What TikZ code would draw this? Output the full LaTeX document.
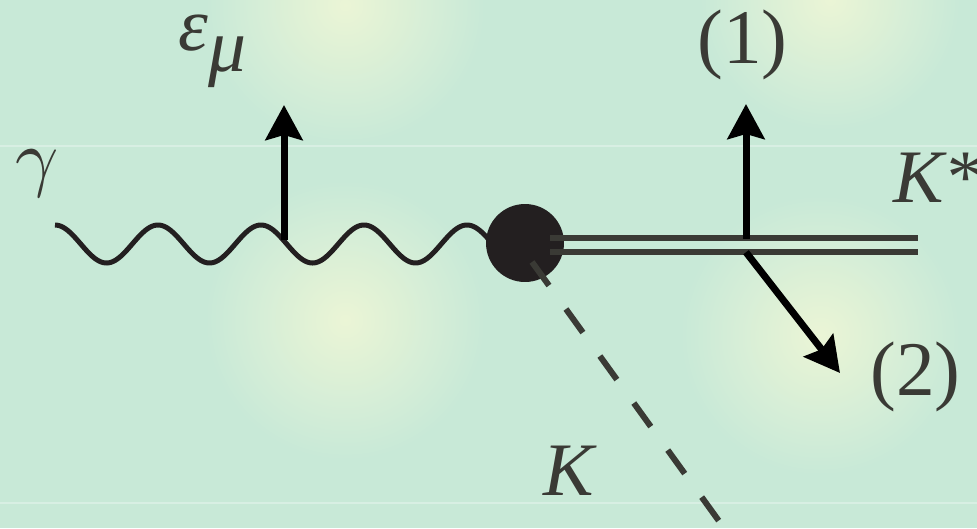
\documentclass[tikz,border=0pt]{standalone}
\usepackage{graphicx}
\usepackage{fontspec}
\setmainfont{Liberation Serif}
\usetikzlibrary{arrows.meta, positioning}
\definecolor{mintbg}{HTML}{C8E9D7}
\definecolor{glow}{HTML}{EBF5D6}
\definecolor{inkgray}{HTML}{3A3A35}
\definecolor{inkblack}{HTML}{231F20}

\begin{document}
\begin{tikzpicture}[
    x=0.02cm, y=-0.02cm,
    lab/.style={font=\fontsize{43}{50}\selectfont\itshape, text=inkgray,
        inner sep=0pt, anchor=base west},
    greeklab/.style={font=\normalsize, text=inkgray, inner sep=0pt, anchor=base west},
    numlab/.style={font=\fontsize{44}{52}\selectfont, text=inkgray,
        inner sep=0pt, anchor=base west},
    photon/.style={line width=0.1cm, color=inkblack},
    vertex/.style={circle, fill=inkblack, minimum size=1.56cm, inner sep=0pt},
    kline/.style={line width=0.12cm, color=inkgray},
    kaon/.style={line width=0.12cm, color=inkgray, dash pattern=on 0.58cm off 0.58cm},
    pol/.style={-{Stealth[length=0.7cm, width=0.74cm, inset=0.1cm]},
        line width=0.14cm, color=black}
]

% --- Background with soft glows ---
\fill[mintbg] (0,0) rectangle (977,528);
\useasboundingbox (0,0) rectangle (977,528);
\begin{scope}
\clip (0,0) rectangle (977,528);
\shade[inner color=glow, outer color=mintbg] (345,5) circle (2.8cm);
\shade[inner color=glow, outer color=mintbg] (345,320) circle (2.8cm);
\shade[inner color=glow, outer color=mintbg] (830,0) circle (2.6cm);
\shade[inner color=glow, outer color=mintbg] (820,335) circle (2.8cm);
\draw[white, opacity=0.3, line width=0.6pt] (0,146) -- (977,146);
\draw[white, opacity=0.3, line width=0.6pt] (0,503) -- (977,503);
\end{scope}

% --- Points on the lines ---
\coordinate (eps)    at (284,240);
\coordinate (tipe)   at (284,105);
\coordinate (kstart) at (550,245);
\coordinate (kend)   at (918,245);
\coordinate (v1)     at (746,245);
\coordinate (tip1)   at (746,104);
\coordinate (tip2)   at (840,373);
\coordinate (kout)   at (532,262);
\coordinate (kfar)   at (724,528);

% --- Photon ---
\draw[photon] plot[domain=55:492, samples=220, smooth]
    (\x, {244-19*cos(3.4951*(\x-55))});
\node[vertex] (blob) at (525,243) {};

% --- K* double line ---
\draw[kline] ([yshift=0.145cm]kstart) -- ([yshift=0.145cm]kend);
\draw[kline] ([yshift=-0.145cm]kstart) -- ([yshift=-0.145cm]kend);

% --- K dashed line ---
\draw[kaon] (kout) -- (kfar);

% --- Polarisation arrows ---
\draw[pol] (eps) -- (tipe);
\draw[pol] ([yshift=0.13cm]v1) -- (tip1);
\draw[pol] ([yshift=-0.145cm]v1) -- (tip2);

% --- Labels ---
\node[greeklab] (gamma) at (15,182) {\scalebox{4.3}{$\gamma$}};
\node[lab] (epsmu) at (178,50) {ε\raisebox{-0.44cm}{μ}};
\node[lab] (kstar) at (893,202) {K*};
\node[lab] (kaonlab) at (543,495) {K};
\node[numlab] (one) at (697,63) {(1)};
\node[numlab] (two) at (870,395) {(2)};

\end{tikzpicture}
\end{document}
